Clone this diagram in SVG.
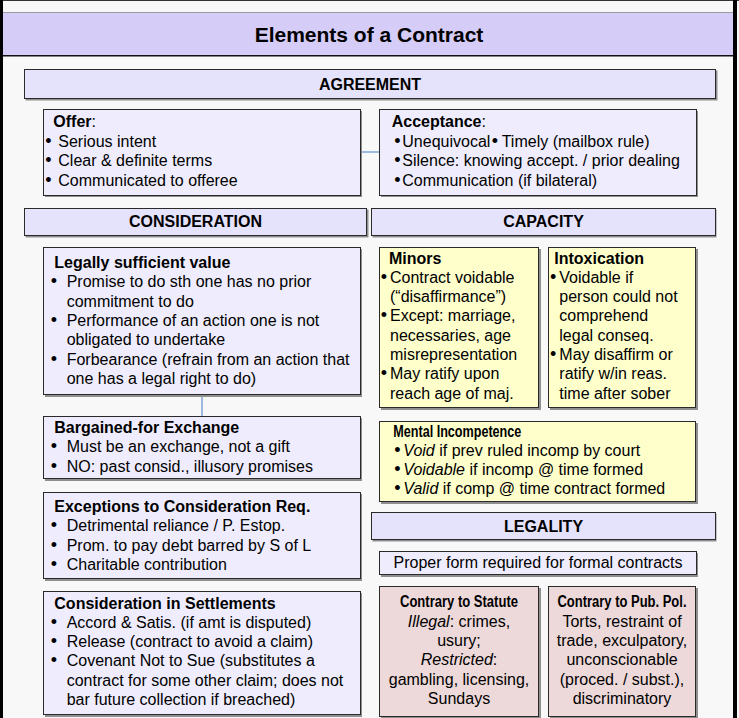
<svg xmlns="http://www.w3.org/2000/svg" width="739" height="718" viewBox="0 0 739 718">
<style>
.t{font-family:"Liberation Sans",Arial,sans-serif;font-size:16px;fill:#000}
.ttl{font-size:21px}
.b{font-weight:bold}
.c{text-anchor:middle}
.i{font-style:italic}
.bu{font-size:18px}
.sh{fill:#8f8f8f}
.bar{fill:#E5E2FB;stroke:#2a2a2a;stroke-width:1}
.box{fill:#EFEDFD;stroke:#2a2a2a;stroke-width:1}
.yel{fill:#FFFFCC;stroke:#2a2a2a;stroke-width:1}
.pink{fill:#EDD9D9;stroke:#2a2a2a;stroke-width:1}
.conn{stroke:#7FA6D6;stroke-width:1.5;fill:none}
</style>
<rect x="0" y="0" width="739" height="718" fill="#F8F8F8"/>
<g id="frame">
<rect x="0" y="0" width="739" height="1" fill="#333"/>
<rect x="0" y="0" width="3" height="718" fill="#000"/>
<rect x="733" y="0" width="4" height="718" fill="#000"/>
</g>
<g id="title">
<rect x="3" y="12" width="730" height="44" fill="#D5CCF7"/>
<rect x="3" y="12" width="730" height="1" fill="#999"/>
<rect x="3" y="55" width="730" height="1.5" fill="#111"/>
<text class="t ttl b c" x="369" y="41.5">Elements of a Contract</text>
</g>
<g id="connectors">
<line class="conn" x1="361" y1="152" x2="379" y2="152"/>
<line class="conn" x1="202" y1="395" x2="202" y2="416"/>
</g>
<g id="agreement">
<rect class="sh" x="25.5" y="70.5" width="692" height="30"/>
<rect class="bar" x="24.5" y="69.5" width="691" height="29"/>
<text class="t b c" x="370" y="89.5">AGREEMENT</text>
</g>
<g id="offer">
<rect class="sh" x="45" y="111" width="317" height="86"/>
<rect class="box" x="43.5" y="109.5" width="317" height="86"/>
<text class="t"><tspan x="53.3" y="127.3" class="b">Offer</tspan><tspan>:</tspan></text>
<text class="t"><tspan class="bu" x="45.3" y="146.7">•</tspan><tspan x="58.3">Serious intent</tspan></text>
<text class="t"><tspan class="bu" x="45.3" y="166.2">•</tspan><tspan x="58.3">Clear &amp; definite terms</tspan></text>
<text class="t"><tspan class="bu" x="45.3" y="185.7">•</tspan><tspan x="58.3">Communicated to offeree</tspan></text>
</g>
<g id="acceptance">
<rect class="sh" x="381" y="111" width="317" height="86"/>
<rect class="box" x="379.5" y="109.5" width="317" height="86"/>
<text class="t"><tspan x="391.7" y="127.3" class="b">Acceptance</tspan><tspan>:</tspan></text>
<text class="t"><tspan class="bu" x="394.3" y="146.7">•</tspan><tspan x="402.3">Unequivocal</tspan><tspan class="bu" x="491.8">•</tspan><tspan x="501.7">Timely (mailbox rule)</tspan></text>
<text class="t"><tspan class="bu" x="394.3" y="166.2">•</tspan><tspan x="402.3">Silence: knowing accept. / prior dealing</tspan></text>
<text class="t"><tspan class="bu" x="394.3" y="185.7">•</tspan><tspan x="402.3">Communication (if bilateral)</tspan></text>
</g>
<g id="consideration">
<rect class="sh" x="25.5" y="209.5" width="343" height="28"/>
<rect class="bar" x="24.5" y="208.5" width="342" height="27"/>
<text class="t b c" x="195.5" y="226.5">CONSIDERATION</text>
</g>
<g id="capacity">
<rect class="sh" x="372.5" y="209.5" width="344" height="28"/>
<rect class="bar" x="371.5" y="208.5" width="344" height="27"/>
<text class="t b c" x="543.5" y="226.5">CAPACITY</text>
</g>
<g id="legally-sufficient">
<rect class="sh" x="45" y="249" width="317" height="148"/>
<rect class="box" x="43.5" y="247.5" width="317" height="147"/>
<text class="t b" x="54.3" y="268">Legally sufficient value</text>
<text class="t"><tspan class="bu" x="50.8" y="287.3">•</tspan><tspan x="66.7">Promise to do sth one has no prior</tspan></text>
<text class="t" x="66.7" y="306.6">commitment to do</text>
<text class="t"><tspan class="bu" x="50.8" y="325.9">•</tspan><tspan x="66.7">Performance of an action one is not</tspan></text>
<text class="t" x="66.7" y="345.2">obligated to undertake</text>
<text class="t"><tspan class="bu" x="50.8" y="364.5">•</tspan><tspan x="66.7">Forbearance (refrain from an action that</tspan></text>
<text class="t" x="66.7" y="383.8">one has a legal right to do)</text>
</g>
<g id="bargained">
<rect class="sh" x="45" y="418" width="317" height="63"/>
<rect class="box" x="43.5" y="416.5" width="317" height="62"/>
<text class="t b" x="54.3" y="433">Bargained-for Exchange</text>
<text class="t"><tspan class="bu" x="50.8" y="452.3">•</tspan><tspan x="66.7">Must be an exchange, not a gift</tspan></text>
<text class="t"><tspan class="bu" x="50.8" y="471.6">•</tspan><tspan x="66.7">NO: past consid., illusory promises</tspan></text>
</g>
<g id="exceptions">
<rect class="sh" x="45" y="494" width="317" height="87"/>
<rect class="box" x="43.5" y="492.5" width="317" height="86"/>
<text class="t b" x="54.3" y="512">Exceptions to Consideration Req.</text>
<text class="t"><tspan class="bu" x="50.8" y="531.3">•</tspan><tspan x="66.7">Detrimental reliance / P. Estop.</tspan></text>
<text class="t"><tspan class="bu" x="50.8" y="550.6">•</tspan><tspan x="66.7">Prom. to pay debt barred by S of L</tspan></text>
<text class="t"><tspan class="bu" x="50.8" y="569.9">•</tspan><tspan x="66.7">Charitable contribution</tspan></text>
</g>
<g id="settlements">
<rect class="sh" x="45" y="593" width="317" height="124"/>
<rect class="box" x="43.5" y="591.5" width="317" height="123"/>
<text class="t b" x="54.3" y="608.5">Consideration in Settlements</text>
<text class="t"><tspan class="bu" x="50.8" y="627.8">•</tspan><tspan x="66.7">Accord &amp; Satis. (if amt is disputed)</tspan></text>
<text class="t"><tspan class="bu" x="50.8" y="647.1">•</tspan><tspan x="66.7">Release (contract to avoid a claim)</tspan></text>
<text class="t"><tspan class="bu" x="50.8" y="666.4">•</tspan><tspan x="66.7">Covenant Not to Sue (substitutes a</tspan></text>
<text class="t" x="66.7" y="685.7">contract for some other claim; does not</text>
<text class="t" x="66.7" y="705">bar future collection if breached)</text>
</g>
<g id="minors">
<rect class="sh" x="381" y="249" width="160" height="161"/>
<rect class="yel" x="379.5" y="247.5" width="159" height="160"/>
<text class="t b" x="389" y="263.5">Minors</text>
<text class="t"><tspan class="bu" x="380.8" y="282.8">•</tspan><tspan x="390">Contract voidable</tspan></text>
<text class="t" x="390" y="302.1">(“disaffirmance”)</text>
<text class="t"><tspan class="bu" x="380.8" y="321.4">•</tspan><tspan x="390">Except: marriage,</tspan></text>
<text class="t" x="390" y="340.7">necessaries, age</text>
<text class="t" x="390" y="360">misrepresentation</text>
<text class="t"><tspan class="bu" x="380.8" y="379.3">•</tspan><tspan x="390">May ratify upon</tspan></text>
<text class="t" x="390" y="398.6">reach age of maj.</text>
</g>
<g id="intoxication">
<rect class="sh" x="550" y="249" width="148" height="161"/>
<rect class="yel" x="548.5" y="247.5" width="147" height="160"/>
<text class="t b" x="554.3" y="263.5">Intoxication</text>
<text class="t"><tspan class="bu" x="550.1" y="282.8">•</tspan><tspan x="559.3">Voidable if</tspan></text>
<text class="t" x="559.3" y="302.1">person could not</text>
<text class="t" x="559.3" y="321.4">comprehend</text>
<text class="t" x="559.3" y="340.7">legal conseq.</text>
<text class="t"><tspan class="bu" x="550.1" y="360">•</tspan><tspan x="559.3">May disaffirm or</tspan></text>
<text class="t" x="559.3" y="379.3">ratify w/in reas.</text>
<text class="t" x="559.3" y="398.6">time after sober</text>
</g>
<g id="mental">
<rect class="sh" x="381" y="423" width="317" height="81"/>
<rect class="yel" x="379.5" y="421.5" width="316" height="80"/>
<text class="t b" x="393.3" y="436.5" textLength="128" lengthAdjust="spacingAndGlyphs">Mental Incompetence</text>
<text class="t"><tspan class="bu" x="394.3" y="455.8">•</tspan><tspan x="403.3" class="i">Void</tspan><tspan> if prev ruled incomp by court</tspan></text>
<text class="t"><tspan class="bu" x="394.3" y="475.1">•</tspan><tspan x="403.3" class="i">Voidable</tspan><tspan> if incomp @ time formed</tspan></text>
<text class="t"><tspan class="bu" x="394.3" y="494.4">•</tspan><tspan x="403.3" class="i">Valid</tspan><tspan> if comp @ time contract formed</tspan></text>
</g>
<g id="legality">
<rect class="sh" x="372.5" y="513.5" width="344" height="28"/>
<rect class="bar" x="371.5" y="512.5" width="344" height="27"/>
<text class="t b c" x="543.5" y="531.5">LEGALITY</text>
</g>
<g id="proper-form">
<rect class="sh" x="381" y="553" width="317" height="24"/>
<rect class="box" x="379.5" y="551.5" width="317" height="23"/>
<text class="t c" x="538" y="568">Proper form required for formal contracts</text>
</g>
<g id="statute">
<rect class="sh" x="381" y="588" width="160" height="130"/>
<rect class="pink" x="379.5" y="586.5" width="159" height="130"/>
<text class="t b c" x="459" y="607.3" textLength="118" lengthAdjust="spacingAndGlyphs">Contrary to Statute</text>
<text class="t c" x="459" y="626.6"><tspan class="i">Illegal</tspan>: crimes,</text>
<text class="t c" x="459" y="645.9">usury;</text>
<text class="t c" x="459" y="665.2"><tspan class="i">Restricted</tspan>:</text>
<text class="t c" x="459" y="684.5">gambling, licensing,</text>
<text class="t c" x="459" y="703.8">Sundays</text>
</g>
<g id="public-policy">
<rect class="sh" x="550" y="588" width="148" height="130"/>
<rect class="pink" x="548.5" y="586.5" width="147" height="130"/>
<text class="t b c" x="622" y="607.3" textLength="129" lengthAdjust="spacingAndGlyphs">Contrary to Pub. Pol.</text>
<text class="t c" x="622" y="626.6">Torts, restraint of</text>
<text class="t c" x="622" y="645.9">trade, exculpatory,</text>
<text class="t c" x="622" y="665.2">unconscionable</text>
<text class="t c" x="622" y="684.5">(proced. / subst.),</text>
<text class="t c" x="622" y="703.8">discriminatory</text>
</g>
</svg>
